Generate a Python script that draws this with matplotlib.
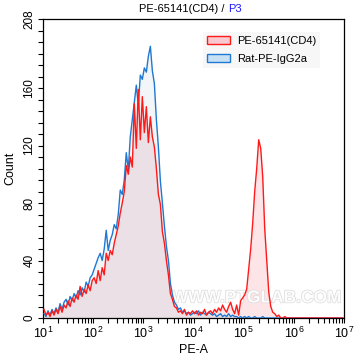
import numpy as np
import matplotlib
matplotlib.use("Agg")
import matplotlib.pyplot as plt
import matplotlib.patheffects as pe
from matplotlib.ticker import FixedLocator, FixedFormatter, LogLocator, NullFormatter

plt.rcParams['font.family'] = ['Liberation Sans', 'DejaVu Sans']
plt.rcParams['mathtext.fontset'] = 'custom'
plt.rcParams['mathtext.rm'] = 'Liberation Sans'
plt.rcParams['mathtext.default'] = 'regular'

# histogram bins: 25 per decade from 10^1 to 10^7
bins_per_decade = 25
lo_dec, hi_dec = 1, 7

# Rat-PE-IgG2a (isotype), counts per bin, decade by decade
iso_d1 = [3, 1, 5, 2, 6, 3, 7, 4, 10, 6, 11, 13, 9, 15, 12, 17, 14, 19, 16, 21, 18, 25, 22, 28, 30]
iso_d2 = [34, 38, 42, 45, 40, 48, 61, 47, 54, 58, 65, 62, 72, 89, 86, 96, 115, 103, 126, 138, 150, 162, 148, 169, 166]
iso_d3 = [174, 171, 182, 189, 172, 163, 138, 119, 95, 80, 64, 50, 40, 24, 16, 11, 9, 6, 7, 4, 5, 3, 4, 2, 3]
iso_d4 = [4, 3, 5, 2, 4, 3, 2, 4, 3, 2, 3, 1, 2, 3, 1, 2, 1, 3, 1, 2, 1, 1, 0, 1, 0]
iso_d5 = [1, 0, 1, 0, 0, 1, 0, 0, 0, 1, 0, 0, 0, 0, 0, 0, 0, 0, 0, 0, 0, 0, 0, 0, 0]
iso_d6 = [0] * 25

# PE-65141(CD4)
cd4_d1 = [6, 2, 4, 1, 5, 2, 6, 3, 8, 4, 9, 7, 12, 8, 14, 11, 16, 13, 22, 15, 20, 17, 23, 19, 26]
cd4_d2 = [28, 24, 33, 26, 35, 30, 45, 40, 47, 44, 52, 58, 64, 73, 80, 88, 106, 100, 112, 105, 149, 118, 159, 124, 154]
cd4_d3 = [129, 147, 122, 140, 126, 119, 104, 86, 79, 60, 52, 40, 30, 17, 13, 8, 7, 4, 5, 3, 6, 2, 4, 3, 5]
cd4_d4 = [3, 5, 2, 4, 3, 6, 2, 4, 5, 3, 6, 4, 7, 5, 9, 6, 4, 8, 11, 6, 3, 9, 2, 12, 14]
cd4_d5 = [16, 20, 34, 48, 66, 88, 104, 124, 118, 98, 62, 40, 18, 8, 4, 3, 1, 2, 0, 0, 1, 0, 0, 0, 0]
cd4_d6 = [0] * 25

iso = np.array(iso_d1 + iso_d2 + iso_d3 + iso_d4 + iso_d5 + iso_d6)
cd4 = np.array(cd4_d1 + cd4_d2 + cd4_d3 + cd4_d4 + cd4_d5 + cd4_d6)

n_bins = bins_per_decade * (hi_dec - lo_dec)
centers = 10 ** (lo_dec + (np.arange(n_bins) + 0.5) / bins_per_decade)

fig = plt.figure(figsize=(3.58, 3.61), dpi=100)
ax = fig.add_axes([43 / 358, 43 / 361, 301 / 358, 299 / 361])

# fills: pink under CD4, greyish where both overlap, isotype-only nearly white
ax.fill_between(centers, 0, iso, color='#f3f6f9', lw=0, zorder=1)
ax.fill_between(centers, 0, cd4, color='#fde4e7', lw=0, zorder=1)
ax.fill_between(centers, 0, np.minimum(iso, cd4), color='#eae0e5', lw=0, zorder=2)

# watermark
ax.text(0.71, 0.067, 'WWW.PTGLAB.COM', transform=ax.transAxes, ha='center', va='center',
        fontsize=12.5, fontweight='bold', color='white', zorder=3, alpha=0.9,
        path_effects=[pe.withStroke(linewidth=1.0, foreground='#d8d8d8')])

ax.plot(centers, iso, color='#1f78d1', lw=1.0, zorder=4)
ax.plot(centers, cd4, color='#ff1a1a', lw=1.0, zorder=5)

ax.set_xscale('log')
ax.set_xlim(10, 1e7)
ax.set_ylim(0, 208)

xt = [10 ** k for k in range(1, 8)]
ax.xaxis.set_major_locator(FixedLocator(xt))
ax.xaxis.set_major_formatter(FixedFormatter([r'$10^{%d}$' % k for k in range(1, 8)]))
ax.xaxis.set_minor_locator(LogLocator(base=10, subs=np.arange(2, 10), numticks=20))
ax.xaxis.set_minor_formatter(NullFormatter())

ax.yaxis.set_major_locator(FixedLocator([0, 40, 80, 120, 160, 208]))
ax.yaxis.set_minor_locator(FixedLocator(list(range(0, 209, 8))))

ax.tick_params(axis='both', which='both', direction='out', length=3.5, width=0.8, color='black')
ax.tick_params(axis='x', labelsize=9, colors='black', pad=2)
ax.tick_params(axis='y', labelsize=8.5, pad=2)
for lab in ax.get_yticklabels():
    lab.set_rotation(90)
    lab.set_va('center')

for s in ax.spines.values():
    s.set_linewidth(0.9)
    s.set_color('black')

ax.set_xlabel('PE-A', fontsize=9, labelpad=2)
ax.set_ylabel('Count', fontsize=9, labelpad=5)

# title with blue gate name
fig.text(228 / 358, 1 - 9 / 361, 'PE-65141(CD4) / ', ha='right', va='center', fontsize=8, color='black')
fig.text(228 / 358, 1 - 9 / 361, 'P3', ha='left', va='center', fontsize=8, color='#1a1aff')

h1 = plt.Rectangle((0, 0), 1, 1, facecolor='#f8c9cf', edgecolor='#ff1a1a', lw=1)
h2 = plt.Rectangle((0, 0), 1, 1, facecolor='#c8e0f4', edgecolor='#1f78d1', lw=1)
leg = ax.legend([h1, h2], ['PE-65141(CD4)', 'Rat-PE-IgG2a'], loc='upper left',
                bbox_to_anchor=(203 / 358, 1 - 32 / 361), bbox_transform=fig.transFigure,
                fontsize=8, frameon=True, fancybox=False, handlelength=2.1, handleheight=0.7,
                handletextpad=0.6, labelspacing=0.7, borderpad=0.35, borderaxespad=0)
leg.get_frame().set_facecolor('#f6f6f6')
leg.get_frame().set_edgecolor('none')
leg.set_zorder(6)

fig.savefig('out.png', dpi=100)
